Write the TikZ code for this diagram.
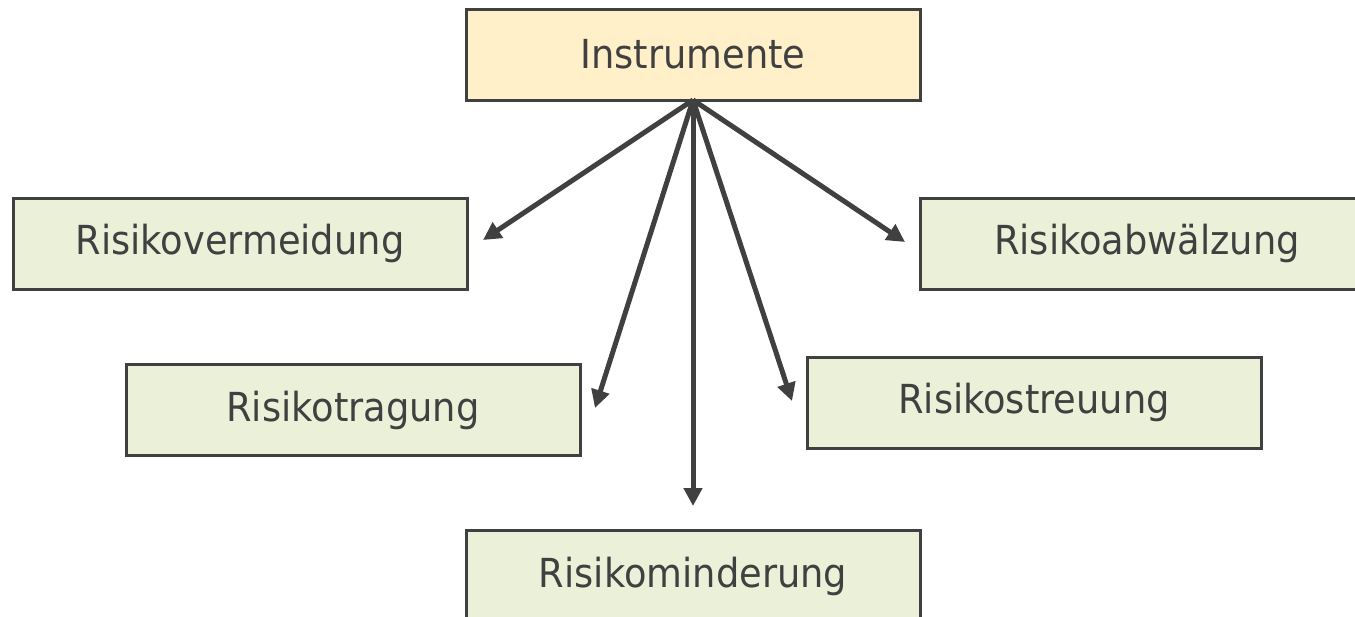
\documentclass[tikz,border=0pt]{standalone}
\usepackage{fontspec}
\setmainfont[FakeStretch=0.92]{DejaVu Sans}
\usetikzlibrary{arrows.meta}
\definecolor{ink}{HTML}{404040}
\definecolor{topfill}{HTML}{FFF0CA}
\definecolor{boxfill}{HTML}{EBF1D8}
\tikzset{
  box/.style={draw=ink, line width=3pt, fill=boxfill, minimum width=454pt, minimum height=91pt, inner sep=0pt, text=ink, font=\fontsize{40}{44}\selectfont},
  topbox/.style={box, fill=topfill},
  conn/.style={draw=ink, line width=5pt, -{Triangle[length=18pt,width=18pt]}}
}
\begin{document}
\begin{tikzpicture}[x=1pt,y=-1pt]
\useasboundingbox (0,0) rectangle (1355,616);
\node[topbox] (instr) at (693,54.5) {Instrumente};
\node[box] (verm) at (240,243.5) {Risikovermeidung};
\node[box] (abw) at (1147,243.5) {Risikoabwälzung};
\node[box] (trag) at (353,410) {Risikotragung};
\node[box] (streu) at (1034,402.5) {Risikostreuung};
\node[box] (mind) at (693,576) {Risikominderung};
\coordinate (o) at (693,100);
\coordinate (e1) at (483,240);
\coordinate (e2) at (595,408);
\coordinate (e3) at (693,506);
\coordinate (e4) at (792,401);
\coordinate (e5) at (905,242);
\foreach \e in {e1,e2,e3,e4,e5} \draw[conn] (o) -- (\e);
\end{tikzpicture}
\end{document}
